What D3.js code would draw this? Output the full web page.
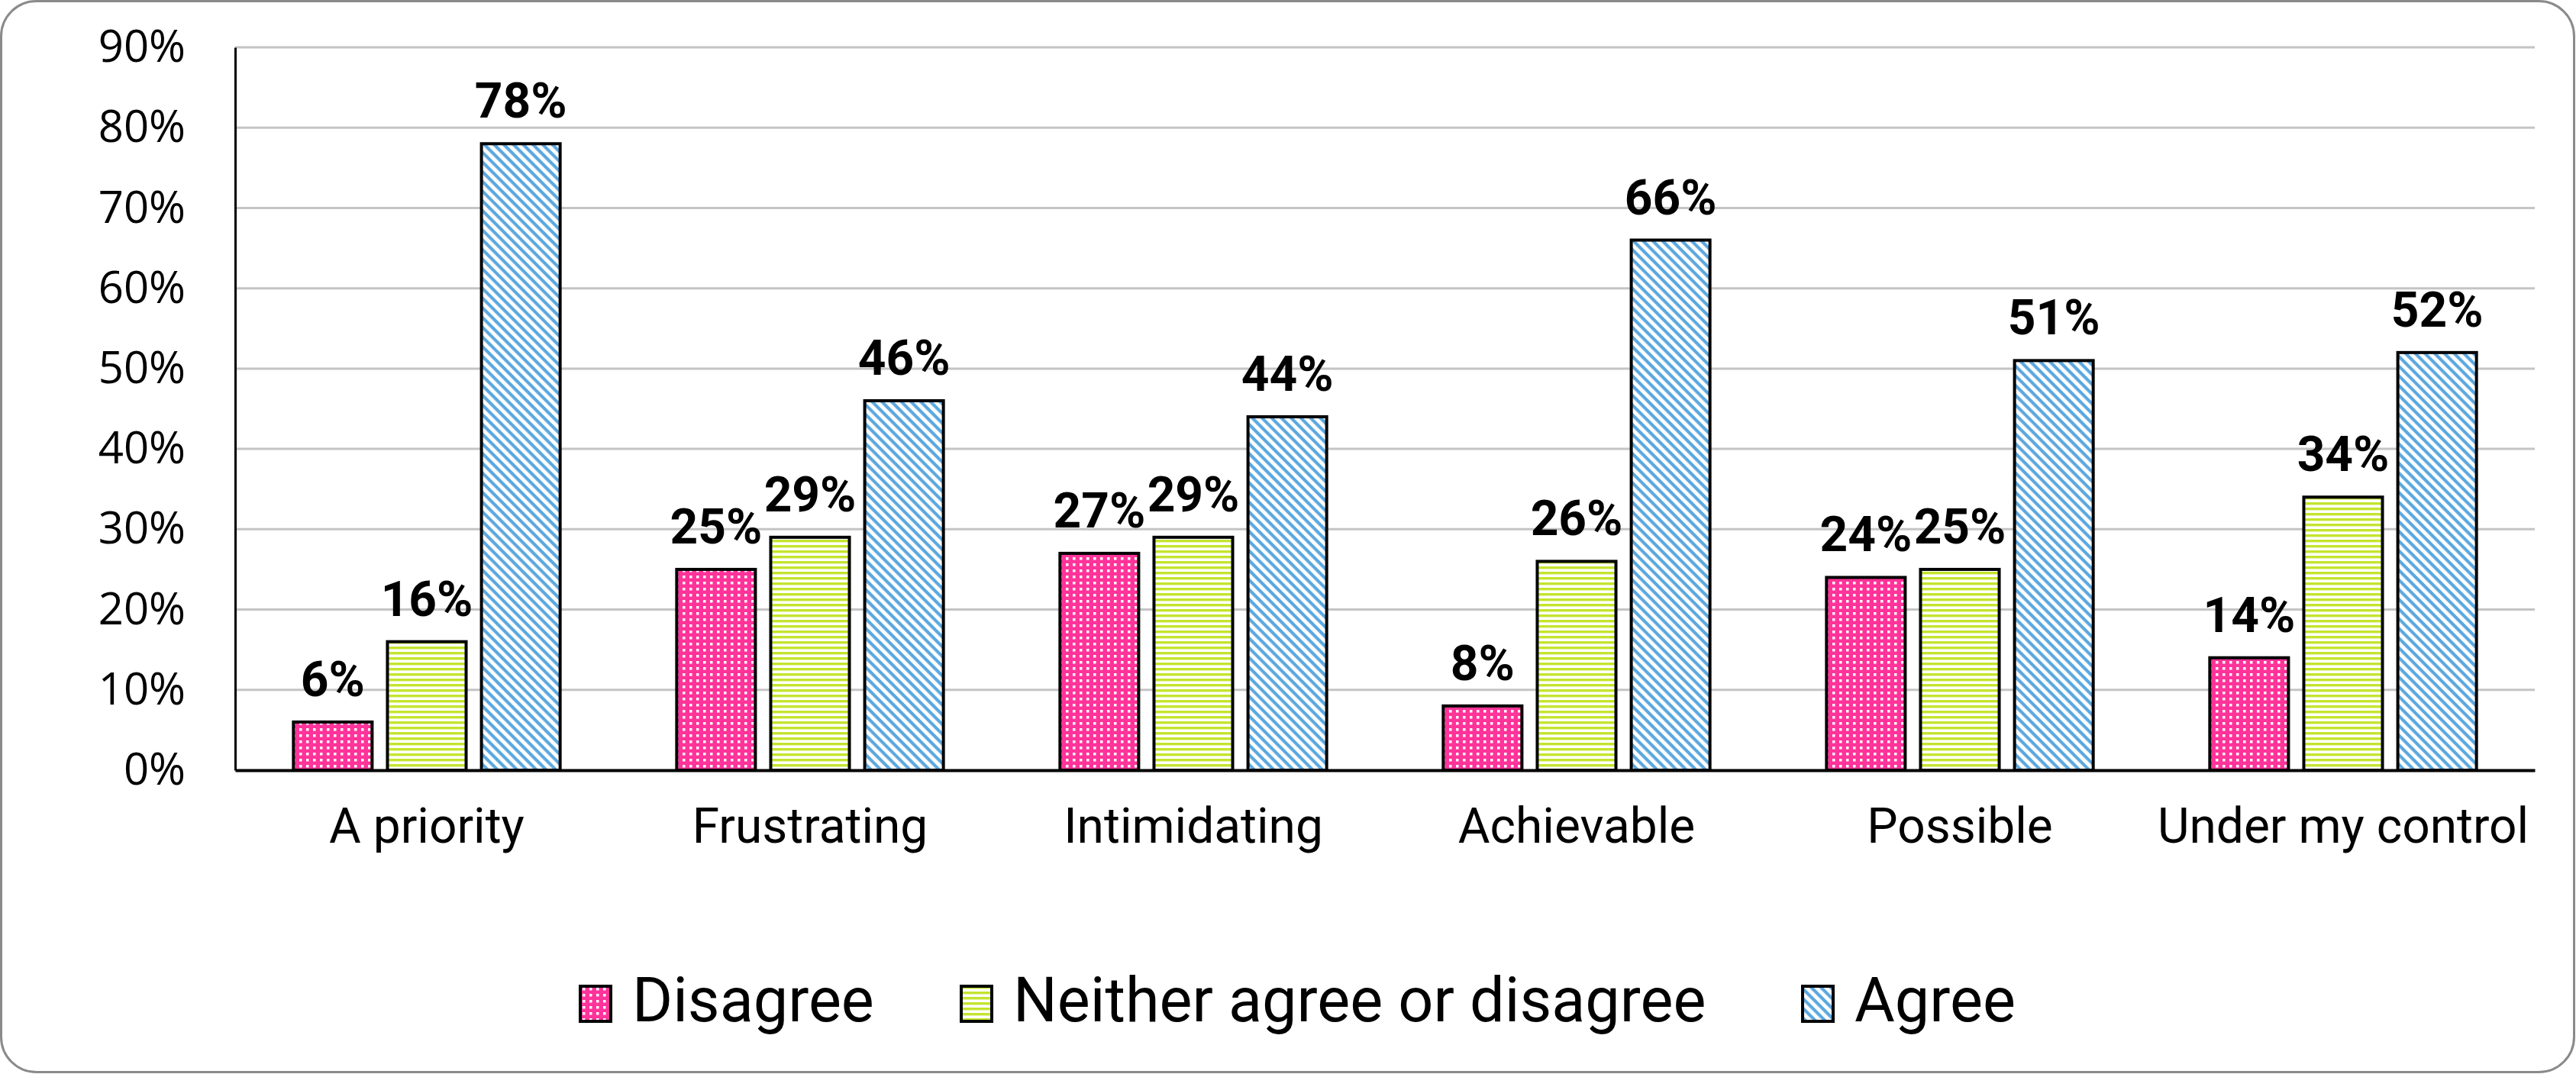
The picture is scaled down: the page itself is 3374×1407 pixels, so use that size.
<!DOCTYPE html>
<html>
<head>
<meta charset="utf-8">
<script src="https://cdn.jsdelivr.net/npm/d3@7"></script>
<style>
  body { margin: 0; background: #fff; }
  svg { display: block; }
</style>
</head>
<body>
<svg id="chart"></svg>
<script>
const categories = ["A priority", "Frustrating", "Intimidating", "Achievable", "Possible", "Under my control"]
const seriesNames = ["Disagree", "Neither agree or disagree", "Agree"]
const disagree = [6, 25, 27, 8, 24, 14]
const neither = [16, 29, 29, 26, 25, 34]
const agree = [78, 46, 44, 66, 51, 52]
const yTicks = [0, 10, 20, 30, 40, 50, 60, 70, 80, 90]

const seriesValues = [disagree, neither, agree]
const patternIds = ["pat-dots", "pat-hstripes", "pat-diag"]

function drawChart(){
  const width = 3374
  const height = 1407
  const margin = {top: 62, right: 54, bottom: 398, left: 308}

  const svg = d3.select("#chart")
    .attr("width", width)
    .attr("height", height)

  // patterns
  const defs = svg.append("defs")

  const dots = defs.append("pattern")
    .attr("id", "pat-dots")
    .attr("patternUnits", "userSpaceOnUse")
    .attr("width", 9).attr("height", 8)
  dots.append("rect").attr("width", 9).attr("height", 8).attr("fill", "#ff3399")
  dots.append("rect").attr("x", 3).attr("y", 2).attr("width", 3.5).attr("height", 3.5).attr("fill", "#fff")

  const hs = defs.append("pattern")
    .attr("id", "pat-hstripes")
    .attr("patternUnits", "userSpaceOnUse")
    .attr("width", 10).attr("height", 7)
  hs.append("rect").attr("width", 10).attr("height", 7).attr("fill", "#fff")
  hs.append("rect").attr("y", 0).attr("width", 10).attr("height", 3.4).attr("fill", "#c3e52e")

  // lines running top-left to bottom-right
  const dg = defs.append("pattern")
    .attr("id", "pat-diag")
    .attr("patternUnits", "userSpaceOnUse")
    .attr("width", 9).attr("height", 9)
    .attr("patternTransform", "rotate(45)")
  dg.append("rect").attr("width", 9).attr("height", 9).attr("fill", "#fff")
  dg.append("rect").attr("width", 9).attr("height", 4.2).attr("fill", "#5ca8e0")

  // frame
  svg.append("rect")
    .attr("x", 1.5).attr("y", 1.5)
    .attr("width", width - 4).attr("height", height - 4)
    .attr("rx", 46).attr("ry", 46)
    .attr("fill", "#fff")
    .attr("stroke", "#8a8a8a")
    .attr("stroke-width", 3)

  const x0 = d3.scaleBand()
    .domain(categories)
    .range([margin.left, width - margin.right])

  const x1 = d3.scaleBand()
    .domain(seriesNames)
    .range([0, x0.bandwidth()])
    .paddingInner(0.163)
    .paddingOuter(0.62)

  const y = d3.scaleLinear()
    .domain([0, 90])
    .range([height - margin.bottom, margin.top])

  // gridlines
  svg.append("g")
    .selectAll("line")
    .data(yTicks.filter(d => d > 0))
    .join("line")
    .attr("x1", margin.left).attr("x2", width - margin.right)
    .attr("y1", d => y(d)).attr("y2", d => y(d))
    .attr("stroke", "#c4c4c4")
    .attr("stroke-width", 3)

  // y axis
  svg.append("g")
    .attr("transform", `translate(${margin.left},0)`)
    .call(d3.axisLeft(y).tickValues(yTicks).tickFormat(d => d + "%").tickSize(0).tickPadding(65))
    .call(g => g.select(".domain").attr("stroke", "#000").attr("stroke-width", 3))
    .call(g => g.selectAll("text")
      .attr("font-family", "'Open Sans', sans-serif")
      .attr("font-size", 58)
      .attr("fill", "#000"))

  // bars
  const groups = svg.append("g")
    .selectAll("g")
    .data(categories)
    .join("g")
    .attr("transform", d => `translate(${x0(d)},0)`)

  groups.selectAll("rect")
    .data((c, ci) => seriesNames.map((s, si) => ({s, si, v: seriesValues[si][ci]})))
    .join("rect")
    .attr("x", d => x1(d.s))
    .attr("y", d => y(d.v))
    .attr("width", x1.bandwidth())
    .attr("height", d => y(0) - y(d.v))
    .attr("fill", d => `url(#${patternIds[d.si]})`)
    .attr("stroke", "#000")
    .attr("stroke-width", 4)

  groups.selectAll("text")
    .data((c, ci) => seriesNames.map((s, si) => ({s, si, v: seriesValues[si][ci]})))
    .join("text")
    .attr("x", d => x1(d.s) + x1.bandwidth() / 2)
    .attr("y", d => y(d.v) - 34)
    .attr("text-anchor", "middle")
    .attr("font-family", "Roboto, sans-serif")
    .attr("font-weight", "bold")
    .attr("font-size", 64)
    .attr("fill", "#000")
    .text(d => d.v + "%")

  // x axis
  svg.append("g")
    .attr("transform", `translate(0,${y(0)})`)
    .call(d3.axisBottom(x0).tickSize(0).tickPadding(50))
    .call(g => g.select(".domain").attr("stroke", "#000").attr("stroke-width", 4))
    .call(g => g.selectAll("text")
      .attr("font-family", "Roboto, sans-serif")
      .attr("font-size", 64)
      .attr("fill", "#000"))

  // legend
  const legendX = [760, 1259, 2361]
  const legend = svg.append("g")
    .selectAll("g")
    .data(seriesNames)
    .join("g")
    .attr("transform", (d, i) => `translate(${legendX[i]},1292)`)

  legend.append("rect")
    .attr("width", 40).attr("height", 46)
    .attr("fill", (d, i) => `url(#${patternIds[i]})`)
    .attr("stroke", "#000")
    .attr("stroke-width", 4)

  legend.append("text")
    .attr("x", 68)
    .attr("y", 46)
    .attr("font-family", "Roboto, sans-serif")
    .attr("font-size", 81)
    .attr("fill", "#000")
    .text(d => d)
}

drawChart()
</script>
</body>
</html>
